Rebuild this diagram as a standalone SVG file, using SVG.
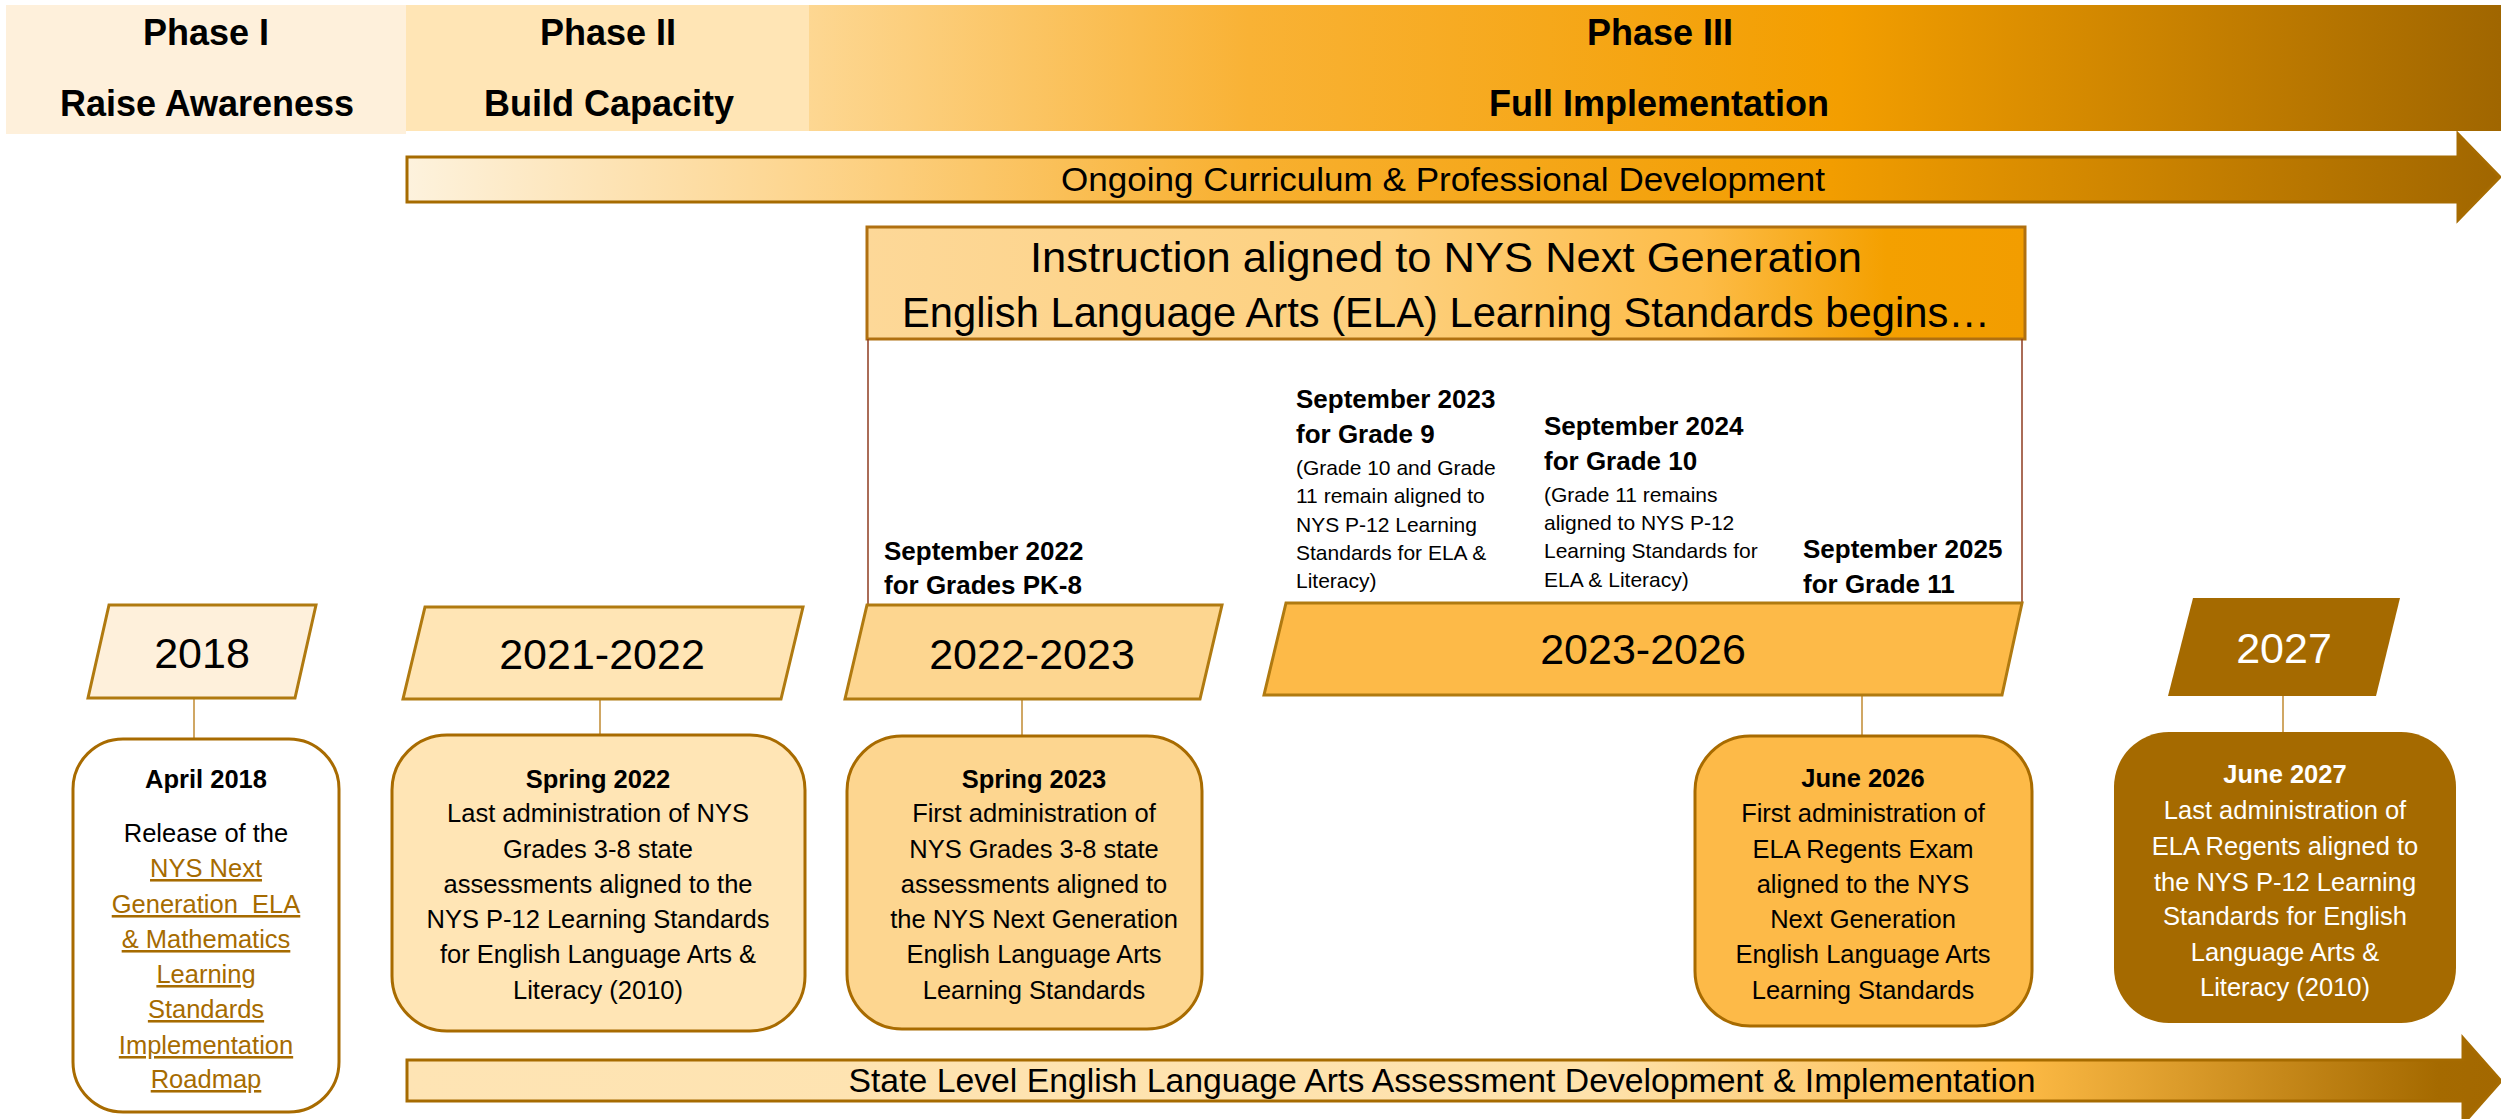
<svg xmlns="http://www.w3.org/2000/svg" width="2501" height="1119" viewBox="0 0 2501 1119">
<defs>
<linearGradient id="gPhase3" gradientUnits="userSpaceOnUse" x1="809" y1="0" x2="2501" y2="0">
<stop offset="0" stop-color="#FDD792"/>
<stop offset="0.26" stop-color="#F9B235"/>
<stop offset="0.61" stop-color="#F39E00"/>
<stop offset="1" stop-color="#A06600"/>
</linearGradient>
<linearGradient id="gOngoing" gradientUnits="userSpaceOnUse" x1="407" y1="0" x2="2501" y2="0">
<stop offset="0" stop-color="#FDF2DD"/>
<stop offset="0.19" stop-color="#FDD58E"/>
<stop offset="0.40" stop-color="#F8B030"/>
<stop offset="0.68" stop-color="#F29D00"/>
<stop offset="1" stop-color="#A06600"/>
</linearGradient>
<linearGradient id="gInstr" gradientUnits="userSpaceOnUse" x1="867" y1="0" x2="2025" y2="0">
<stop offset="0" stop-color="#FDD898"/>
<stop offset="0.45" stop-color="#FDD07E"/>
<stop offset="0.72" stop-color="#FDBC48"/>
<stop offset="0.88" stop-color="#F4A000"/>
<stop offset="1" stop-color="#F29D00"/>
</linearGradient>
<linearGradient id="gState" gradientUnits="userSpaceOnUse" x1="407" y1="0" x2="2501" y2="0">
<stop offset="0" stop-color="#FEE4B4"/>
<stop offset="0.57" stop-color="#FEE2AC"/>
<stop offset="0.77" stop-color="#FDBA45"/>
<stop offset="0.97" stop-color="#A56A00"/>
<stop offset="1" stop-color="#A36800"/>
</linearGradient>
<style>
.hd{font-family:"Liberation Sans",Arial,sans-serif;font-weight:bold;font-size:36px;fill:#000;text-anchor:middle}
.arw{font-family:"Liberation Sans",Arial,sans-serif;font-size:34px;fill:#000;text-anchor:middle}
.ins{font-family:"Liberation Sans",Arial,sans-serif;font-size:42px;fill:#000;text-anchor:middle}
.yr{font-family:"Liberation Sans",Arial,sans-serif;font-size:43px;fill:#000;text-anchor:middle}
.sb{font-family:"Liberation Sans",Arial,sans-serif;font-weight:bold;font-size:26px;fill:#000}
.sn{font-family:"Liberation Sans",Arial,sans-serif;font-size:21px;fill:#000}
.bt{font-family:"Liberation Sans",Arial,sans-serif;font-size:25.5px;fill:#000;text-anchor:middle}
.bb{font-weight:bold}
.lnk{fill:#A66B00;text-decoration:underline}
.wt{fill:#FFFFFF}
.par{stroke:#B07A10;stroke-width:3}
.box{stroke:#A86B00;stroke-width:3}
.con{stroke:#C08A30;stroke-width:1.5;fill:none}
.brk{stroke:#8E3B1F;stroke-width:1.5;fill:none}
</style>
</defs>
<rect width="2501" height="1119" fill="#FFFFFF"/>

<g id="phase-1">
<rect x="6" y="5" width="400" height="129" fill="#FEF0DB"/>
<text class="hd" x="206" y="45">Phase I</text>
<text class="hd" x="207" y="116">Raise Awareness</text>
</g>
<g id="phase-2">
<rect x="406" y="5" width="403" height="126" fill="#FFE5B5"/>
<text class="hd" x="608" y="45">Phase II</text>
<text class="hd" x="609" y="116">Build Capacity</text>
</g>
<g id="phase-3">
<rect x="809" y="5" width="1692" height="126" fill="url(#gPhase3)"/>
<text class="hd" x="1660" y="45">Phase III</text>
<text class="hd" x="1659" y="116">Full Implementation</text>
</g>

<g id="ongoing-arrow">
<polygon points="407,157 2458,157 2458,134 2500,177 2458,220 2458,202 407,202" fill="url(#gOngoing)" stroke="#A66B00" stroke-width="3" stroke-linejoin="miter"/>
<text class="arw" x="1443" y="191" textLength="764" lengthAdjust="spacingAndGlyphs">Ongoing Curriculum &amp; Professional Development</text>
</g>

<g id="instruction">
<rect x="867" y="227" width="1158" height="112" fill="url(#gInstr)" stroke="#B07010" stroke-width="3"/>
<text class="ins" x="1446" y="272" textLength="832" lengthAdjust="spacingAndGlyphs">Instruction aligned to NYS Next Generation</text>
<text class="ins" x="1446" y="327" textLength="1088" lengthAdjust="spacingAndGlyphs">English Language Arts (ELA) Learning Standards begins…</text>
</g>

<g id="connectors">
<line class="brk" x1="868" y1="339" x2="868" y2="604"/>
<line class="brk" x1="2022" y1="339" x2="2022" y2="604"/>
<line class="con" x1="194" y1="698" x2="194" y2="739"/>
<line class="con" x1="600" y1="699" x2="600" y2="735"/>
<line class="con" x1="1022" y1="699" x2="1022" y2="736"/>
<line class="con" x1="1862" y1="695" x2="1862" y2="736"/>
<line class="con" x1="2283" y1="696" x2="2283" y2="732"/>
</g>

<g id="sep-2022">
<text class="sb" x="884" y="560">September 2022</text>
<text class="sb" x="884" y="594">for Grades PK-8</text>
</g>
<g id="sep-2023">
<text class="sb" x="1296" y="408">September 2023</text>
<text class="sb" x="1296" y="443">for Grade 9</text>
<text class="sn" x="1296" y="475">(Grade 10 and Grade</text>
<text class="sn" x="1296" y="503">11 remain aligned to</text>
<text class="sn" x="1296" y="532">NYS P-12 Learning</text>
<text class="sn" x="1296" y="560">Standards for ELA &amp;</text>
<text class="sn" x="1296" y="588">Literacy)</text>
</g>
<g id="sep-2024">
<text class="sb" x="1544" y="435">September 2024</text>
<text class="sb" x="1544" y="470">for Grade 10</text>
<text class="sn" x="1544" y="502">(Grade 11 remains</text>
<text class="sn" x="1544" y="530">aligned to NYS P-12</text>
<text class="sn" x="1544" y="558">Learning Standards for</text>
<text class="sn" x="1544" y="587">ELA &amp; Literacy)</text>
</g>
<g id="sep-2025">
<text class="sb" x="1803" y="558">September 2025</text>
<text class="sb" x="1803" y="593">for Grade 11</text>
</g>

<g id="year-2018">
<polygon class="par" points="109,605 316,605 295,698 88,698" fill="#FEF0DB"/>
<text class="yr" x="202" y="668">2018</text>
</g>
<g id="year-2021-2022">
<polygon class="par" points="425,607 803,607 781,699 403,699" fill="#FFE5B5"/>
<text class="yr" x="602" y="669">2021-2022</text>
</g>
<g id="year-2022-2023">
<polygon class="par" points="867,605 1222,605 1200,699 845,699" fill="#FDD690"/>
<text class="yr" x="1032" y="669">2022-2023</text>
</g>
<g id="year-2023-2026">
<polygon class="par" points="1286,603 2022,603 2002,695 1264,695" fill="#FDBA48"/>
<text class="yr" x="1643" y="664">2023-2026</text>
</g>
<g id="year-2027">
<polygon points="2193,598 2400,598 2376,696 2168,696" fill="#A56A00"/>
<text class="yr wt" x="2284" y="663">2027</text>
</g>

<g id="april-2018">
<rect class="box" x="73" y="739" width="266" height="373" rx="50" ry="50" fill="#FFFFFF"/>
<text class="bt bb" x="206" y="788">April 2018</text>
<text class="bt" x="206" y="842">Release of the</text>
<text class="bt lnk" x="206" y="877">NYS Next</text>
<text class="bt lnk" x="206" y="913" xml:space="preserve">Generation  ELA</text>
<text class="bt lnk" x="206" y="948">&amp; Mathematics</text>
<text class="bt lnk" x="206" y="983">Learning</text>
<text class="bt lnk" x="206" y="1018">Standards</text>
<text class="bt lnk" x="206" y="1054">Implementation</text>
<text class="bt lnk" x="206" y="1088">Roadmap</text>
</g>
<g id="spring-2022">
<rect class="box" x="392" y="735" width="413" height="296" rx="55" ry="55" fill="#FFE5B5"/>
<text class="bt bb" x="598" y="788">Spring 2022</text>
<text class="bt" x="598" y="822">Last administration of NYS</text>
<text class="bt" x="598" y="858">Grades 3-8 state</text>
<text class="bt" x="598" y="893">assessments aligned to the</text>
<text class="bt" x="598" y="928">NYS P-12 Learning Standards</text>
<text class="bt" x="598" y="963">for English Language Arts &amp;</text>
<text class="bt" x="598" y="999">Literacy (2010)</text>
</g>
<g id="spring-2023">
<rect class="box" x="847" y="736" width="355" height="293" rx="55" ry="55" fill="#FDD690"/>
<text class="bt bb" x="1034" y="788">Spring 2023</text>
<text class="bt" x="1034" y="822">First administration of</text>
<text class="bt" x="1034" y="858">NYS Grades 3-8 state</text>
<text class="bt" x="1034" y="893">assessments aligned to</text>
<text class="bt" x="1034" y="928">the NYS Next Generation</text>
<text class="bt" x="1034" y="963">English Language Arts</text>
<text class="bt" x="1034" y="999">Learning Standards</text>
</g>
<g id="june-2026">
<rect class="box" x="1695" y="736" width="337" height="290" rx="55" ry="55" fill="#FDBA48"/>
<text class="bt bb" x="1863" y="787">June 2026</text>
<text class="bt" x="1863" y="822">First administration of</text>
<text class="bt" x="1863" y="858">ELA Regents Exam</text>
<text class="bt" x="1863" y="893">aligned to the NYS</text>
<text class="bt" x="1863" y="928">Next Generation</text>
<text class="bt" x="1863" y="963">English Language Arts</text>
<text class="bt" x="1863" y="999">Learning Standards</text>
</g>
<g id="june-2027">
<rect x="2114" y="732" width="342" height="291" rx="55" ry="55" fill="#A56A00"/>
<text class="bt bb wt" x="2285" y="783">June 2027</text>
<text class="bt wt" x="2285" y="819">Last administration of</text>
<text class="bt wt" x="2285" y="855">ELA Regents aligned to</text>
<text class="bt wt" x="2285" y="891">the NYS P-12 Learning</text>
<text class="bt wt" x="2285" y="925">Standards for English</text>
<text class="bt wt" x="2285" y="961">Language Arts &amp;</text>
<text class="bt wt" x="2285" y="996">Literacy (2010)</text>
</g>

<g id="state-arrow">
<polygon points="407,1060 2463,1060 2463,1038 2501,1081 2463,1124 2463,1101 407,1101" fill="url(#gState)" stroke="#A66B00" stroke-width="3"/>
<text class="arw" x="1442" y="1092" textLength="1187" lengthAdjust="spacingAndGlyphs">State Level English Language Arts Assessment Development &amp; Implementation</text>
</g>
</svg>
